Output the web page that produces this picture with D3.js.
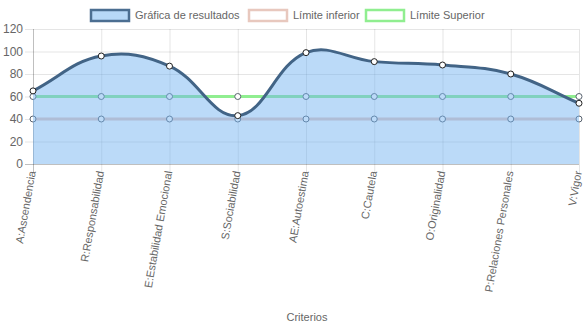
<!DOCTYPE html>
<html>
<head>
<meta charset="utf-8">
<script src="https://cdn.jsdelivr.net/npm/d3@7/dist/d3.min.js"></script>
<style>
  html, body { margin: 0; padding: 0; background: #fff; }
  svg { display: block; font-family: "Liberation Sans", Arial, Helvetica, sans-serif; }
</style>
</head>
<body>
<svg id="chart" width="583" height="328"></svg>
<script>
// Criterios evaluados y puntajes
const categories = [
  "A:Ascendencia", "R:Responsabilidad", "E:Estabilidad Emocional",
  "S:Sociabilidad", "AE:Autoestima", "C:Cautela", "O:Originalidad",
  "P:Relaciones Personales", "V:Vigor"
];
const resultados = [65, 96, 87, 43, 99, 91, 88, 80, 54];
const limiteInferior = [40, 40, 40, 40, 40, 40, 40, 40, 40];
const limiteSuperior = [60, 60, 60, 60, 60, 60, 60, 60, 60];
const yTicks = [0, 20, 40, 60, 80, 100, 120];
const legendLabels = ["Gráfica de resultados", "Límite inferior", "Límite Superior"];
const axisTitle = "Criterios";

const svg = d3.select("#chart");
const area = { left: 33, right: 579, top: 29, bottom: 164 };
const fontSize = 11;

const x = d3.scalePoint().domain(categories).range([area.left, area.right]);
const y = d3.scaleLinear().domain([0, 120]).range([area.bottom, area.top]);

const gridColor = "rgba(0,0,0,0.1)";
const textColor = "#666";

// Grid lines and tick marks
const grid = svg.append("g");
yTicks.forEach(t => {
  grid.append("line")
    .attr("x1", area.left - 8).attr("x2", area.right)
    .attr("y1", y(t) + 0.5).attr("y2", y(t) + 0.5)
    .attr("stroke", t === 0 ? "rgba(0,0,0,0.25)" : gridColor).attr("stroke-width", 1);
});
categories.forEach((c, i) => {
  grid.append("line")
    .attr("x1", x(c) + 0.5).attr("x2", x(c) + 0.5)
    .attr("y1", area.top).attr("y2", area.bottom + 9)
    .attr("stroke", i === 0 ? "rgba(0,0,0,0.25)" : gridColor).attr("stroke-width", 1);
});

// Y tick labels
svg.append("g").selectAll("text").data(yTicks).join("text")
  .attr("x", area.left - 10).attr("y", d => y(d))
  .attr("dy", "0.35em").attr("text-anchor", "end")
  .attr("font-size", fontSize + 1).attr("fill", textColor)
  .text(d => d);

// X tick labels, rotated
svg.append("g").selectAll("text").data(categories).join("text")
  .attr("transform", d => `translate(${x(d) - 1},${area.bottom + 7}) rotate(-80)`)
  .attr("dy", "0.35em").attr("text-anchor", "end")
  .attr("font-size", fontSize).attr("fill", textColor)
  .text(d => d);

// Axis title
svg.append("text")
  .attr("x", (area.left + area.right) / 2 + 1).attr("y", 321)
  .attr("text-anchor", "middle").attr("font-size", fontSize).attr("fill", textColor)
  .text(axisTitle);

// Tensioned spline through the points (tension 0.4, control points kept inside the plot)
function splinePoints(values) {
  const pts = values.map((v, i) => ({ x: x(categories[i]), y: y(v) }));
  const t = 0.4;
  const clampX = v => Math.max(area.left, Math.min(area.right, v));
  const clampY = v => Math.max(area.top, Math.min(area.bottom, v));
  pts.forEach((cur, i) => {
    const prev = pts[i - 1] || cur;
    const next = pts[i + 1] || cur;
    const d01 = Math.hypot(cur.x - prev.x, cur.y - prev.y);
    const d12 = Math.hypot(next.x - cur.x, next.y - cur.y);
    let s01 = d01 / (d01 + d12), s12 = d12 / (d01 + d12);
    if (isNaN(s01)) s01 = 0;
    if (isNaN(s12)) s12 = 0;
    const fa = t * s01, fb = t * s12;
    cur.cpPrev = { x: clampX(cur.x - fa * (next.x - prev.x)), y: clampY(cur.y - fa * (next.y - prev.y)) };
    cur.cpNext = { x: clampX(cur.x + fb * (next.x - prev.x)), y: clampY(cur.y + fb * (next.y - prev.y)) };
  });
  return pts;
}
function splinePath(pts) {
  const p = d3.path();
  p.moveTo(pts[0].x, pts[0].y);
  for (let i = 1; i < pts.length; i++) {
    const a = pts[i - 1], b = pts[i];
    p.bezierCurveTo(a.cpNext.x, a.cpNext.y, b.cpPrev.x, b.cpPrev.y, b.x, b.y);
  }
  return p.toString();
}

const plot = svg.append("g");

// Limit series (drawn first, under the results fill)
const limits = [
  { values: limiteSuperior, color: "rgb(144,238,144)" },
  { values: limiteInferior, color: "rgb(232,200,190)" }
];
limits.forEach(s => {
  const pts = splinePoints(s.values);
  plot.append("path").attr("d", splinePath(pts))
    .attr("fill", "none").attr("stroke", s.color).attr("stroke-width", 3);
});
limits.forEach(s => {
  const pts = splinePoints(s.values);
  plot.append("g").selectAll("circle").data(pts).join("circle")
    .attr("cx", d => d.x).attr("cy", d => d.y).attr("r", 3)
    .attr("fill", "#fff").attr("stroke", "#5a6470").attr("stroke-width", 1);
});

// Results series: filled area, line and points
const rp = splinePoints(resultados);
const areaPath = splinePath(rp) +
  `L${rp[rp.length - 1].x},${y(0)}L${rp[0].x},${y(0)}Z`;
plot.append("path").attr("d", areaPath)
  .attr("fill", "rgba(112,178,240,0.48)").attr("stroke", "none");
plot.append("path").attr("d", splinePath(rp))
  .attr("fill", "none").attr("stroke", "rgb(66,100,134)").attr("stroke-width", 3);
plot.append("g").selectAll("circle").data(rp).join("circle")
  .attr("cx", d => d.x).attr("cy", d => d.y).attr("r", 3)
  .attr("fill", "#fff").attr("stroke", "#222").attr("stroke-width", 1);

// Legend
const legendItems = [
  { label: legendLabels[0], fill: "rgb(183,216,247)", stroke: "rgb(75,110,145)", x: 90 },
  { label: legendLabels[1], fill: "#fff", stroke: "rgb(232,200,190)", x: 248 },
  { label: legendLabels[2], fill: "#fff", stroke: "rgb(144,238,144)", x: 365 }
];
const lg = svg.append("g");
legendItems.forEach(it => {
  lg.append("rect").attr("x", it.x + 1).attr("y", 10).attr("width", 38).attr("height", 11)
    .attr("fill", it.fill).attr("stroke", it.stroke).attr("stroke-width", 2.5);
  lg.append("text").attr("x", it.x + 45).attr("y", 15.5).attr("dy", "0.35em")
    .attr("font-size", fontSize).attr("fill", textColor).text(it.label);
});
</script>
</body>
</html>
